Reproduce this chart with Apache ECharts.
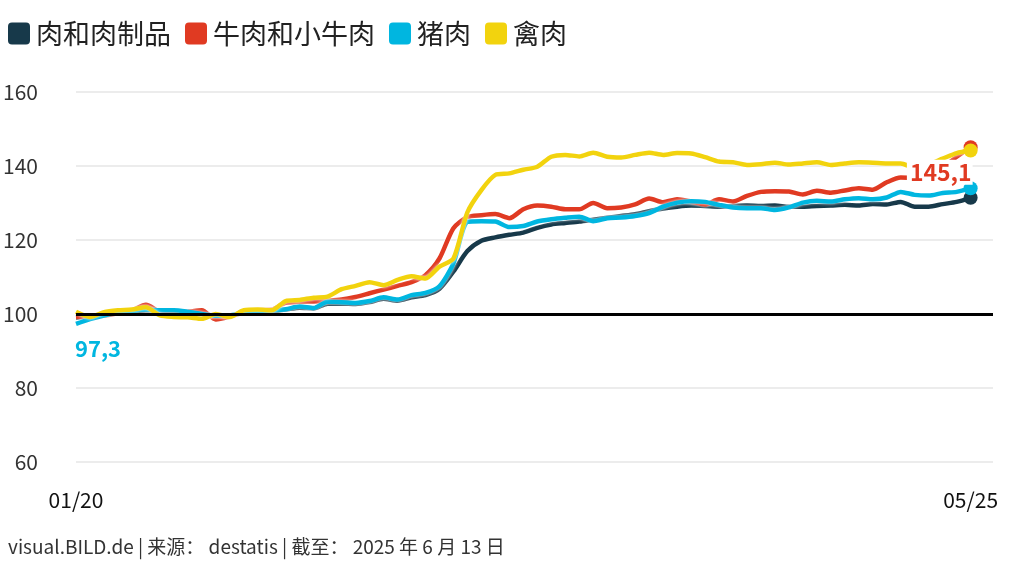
<!DOCTYPE html>
<html>
<head>
<meta charset="utf-8">
<script src="https://cdn.jsdelivr.net/npm/echarts@6/dist/echarts.min.js"></script>
<style>
html,body{margin:0;padding:0;background:#fff;}
#chart{width:1011px;height:568px;}
</style>
</head>
<body>
<div id="chart"></div>
<script>
// Monthly index values, 01/2020 .. 05/2025 (65 months), 2020 = 100
const seriesNames = ['肉和肉制品', '牛肉和小牛肉', '猪肉', '禽肉'];
const meat = [99.0, 99.3, 99.8, 100.2, 100.6, 101.0, 100.8, 100.6, 100.3, 100.0, 99.6, 99.6,
  100.3, 100.6, 100.8, 101.2, 101.7, 101.5, 102.8, 102.8, 102.7, 103.2, 104.1, 103.6,
  104.5, 105.1, 106.8, 111.5, 117.0, 119.8, 120.7, 121.4, 122.0, 123.3, 124.2, 124.6,
  125.0, 125.5, 126.0, 126.5, 127.0, 127.8, 128.5, 129.0, 129.3, 129.2, 129.0, 129.2,
  129.3, 129.2, 129.3, 129.0, 129.0, 129.2, 129.3, 129.5, 129.3, 129.7, 129.6, 130.3,
  129.0, 129.0, 129.7, 130.3, 131.4];
const beef = [99.2, 99.4, 99.6, 100.2, 101.0, 102.5, 100.6, 100.3, 100.6, 101.0, 98.5, 99.3,
  100.5, 101.0, 101.2, 103.0, 103.3, 103.4, 103.6, 103.9, 104.6, 105.6, 106.6, 107.6,
  108.6, 110.5, 115.0, 123.2, 126.2, 126.7, 127.0, 125.9, 128.3, 129.3, 129.0, 128.3,
  128.3, 130.0, 128.6, 128.8, 129.6, 131.2, 130.2, 131.0, 130.4, 129.6, 131.0, 130.4,
  131.9, 133.0, 133.2, 133.1, 132.3, 133.3, 132.8, 133.4, 134.0, 133.6, 135.6, 136.9,
  136.8, 137.0, 139.5, 142.5, 145.1];
const pork = [97.3, 98.6, 99.6, 100.3, 100.8, 101.2, 101.0, 101.0, 100.6, 100.0, 99.5, 99.6,
  100.5, 100.8, 101.0, 101.3, 102.0, 101.6, 103.3, 103.2, 103.0, 103.5, 104.5, 103.9,
  105.1, 105.7, 107.5, 113.7, 124.9, 125.1, 125.0, 123.5, 123.8, 125.0, 125.6, 126.0,
  126.3, 125.1, 125.9, 126.1, 126.5, 127.3, 129.0, 130.1, 130.5, 130.3, 129.5, 128.8,
  128.6, 128.6, 128.1, 128.8, 130.1, 130.6, 130.4, 131.0, 131.3, 131.0, 131.5, 133.0,
  132.2, 132.0, 132.7, 133.0, 134.0];
const poultry = [100.6, 99.2, 100.5, 101.0, 101.2, 101.8, 99.6, 99.2, 99.1, 98.7, 100.0, 99.2,
  101.0, 101.2, 101.0, 103.5, 103.8, 104.4, 104.7, 106.7, 107.6, 108.6, 107.8, 109.2,
  110.2, 109.6, 112.8, 115.0, 127.5, 133.5, 137.6, 138.0, 139.0, 139.8, 142.5, 143.0,
  142.6, 143.6, 142.5, 142.3, 143.0, 143.6, 143.0, 143.5, 143.4, 142.4, 141.2, 141.0,
  140.3, 140.5, 140.9, 140.4, 140.7, 141.0, 140.3, 140.7, 141.0, 140.9, 140.7, 140.7,
  139.5, 140.5, 142.0, 143.5, 144.2];
const xTickLabels = ['01/20', '05/25'];
const yTicks = [60, 80, 100, 120, 140, 160];
const baseline = 100;
const footer = 'visual.BILD.de | 来源： destatis | 截至： 2025 年 6 月 13 日';

const colors = ['#17394a', '#e03a22', '#00b6e0', '#f2d30e'];
const lastIdx = meat.length - 1;
const numFont = "'Noto Sans CJK SC', sans-serif";

function pairs(arr) { return arr.map((v, i) => [i, v]); }
const fmt = v => String(v).replace('.', ',');

const lineSeries = [meat, beef, pork, poultry].map((arr, k) => ({
  name: seriesNames[k],
  type: 'line',
  data: pairs(arr),
  smooth: 0.25,
  showSymbol: true,
  showAllSymbol: true,
  symbol: 'circle',
  symbolSize: (val, p) => p.dataIndex === lastIdx ? 14 : 0,
  itemStyle: { color: colors[k] },
  lineStyle: { width: 4.5, color: colors[k], shadowColor: '#ffffff', shadowBlur: 3 },
  z: 2 + k * 0.1,
  emphasis: { disabled: true },
  animation: false
}));

const overlay = {
  name: 'labels',
  type: 'scatter',
  z: 10,
  symbolSize: 0,
  silent: true,
  animation: false,
  itemStyle: { opacity: 1 },
  data: [
    { value: [0, pork[0]], label: { show: true, position: 'bottom', distance: 14, offset: [22, 0],
      formatter: fmt(pork[0]), color: colors[2], fontSize: 22, fontWeight: 'bold', fontFamily: numFont, opacity: 1 } },
    { value: [lastIdx, beef[lastIdx]], label: { show: true, position: 'left', distance: 0, offset: [2, 25],
      formatter: fmt(beef[lastIdx]), color: colors[1], fontSize: 23, fontWeight: 'bold', fontFamily: numFont, opacity: 1,
      backgroundColor: '#ffffff', padding: [1, 1, 1, 3] } }
  ],
  markLine: {
    silent: true,
    symbol: 'none',
    label: { show: false },
    lineStyle: { color: '#000', width: 3, type: 'solid', opacity: 1 },
    data: [{ yAxis: baseline }],
    animation: false
  }
};

const chart = echarts.init(document.getElementById('chart'), null, { renderer: 'canvas' });
chart.setOption({
  animation: false,
  backgroundColor: '#ffffff',
  legend: {
    data: seriesNames,
    left: 8,
    top: 20,
    padding: 0,
    icon: 'path://M4,0 L18,0 Q22,0 22,4 L22,18 Q22,22 18,22 L4,22 Q0,22 0,18 L0,4 Q0,0 4,0 Z',
    itemWidth: 22,
    itemHeight: 22,
    itemGap: 14,
    textStyle: { fontSize: 27, color: '#222', fontFamily: "'Noto Sans CJK SC', sans-serif", padding: [0, 0, 0, 1] },
    selectedMode: false
  },
  title: {
    text: footer,
    left: 8,
    top: 537,
    padding: 0,
    textStyle: { fontSize: 19, fontWeight: 'normal', color: '#333', fontFamily: numFont }
  },
  grid: { left: 76, right: 18, top: 92, bottom: 106, containLabel: false },
  xAxis: {
    type: 'value',
    min: 0,
    max: 65.6,
    interval: 64,
    axisLine: { show: false },
    axisTick: { show: false },
    splitLine: { show: false },
    axisLabel: {
      margin: 28,
      fontSize: 21,
      color: '#111',
      fontFamily: numFont,
      showMaxLabel: false,
      formatter: v => v === 0 ? xTickLabels[0] : (v === 64 ? xTickLabels[1] : '')
    }
  },
  yAxis: {
    type: 'value',
    min: yTicks[0],
    max: yTicks[yTicks.length - 1],
    interval: 20,
    axisLine: { show: false },
    axisTick: { show: false },
    splitLine: { lineStyle: { color: '#e6e6e6', width: 1.5 } },
    axisLabel: { margin: 38, fontSize: 21, color: '#333', fontFamily: numFont }
  },
  series: [...lineSeries, overlay]
});
</script>
</body>
</html>
